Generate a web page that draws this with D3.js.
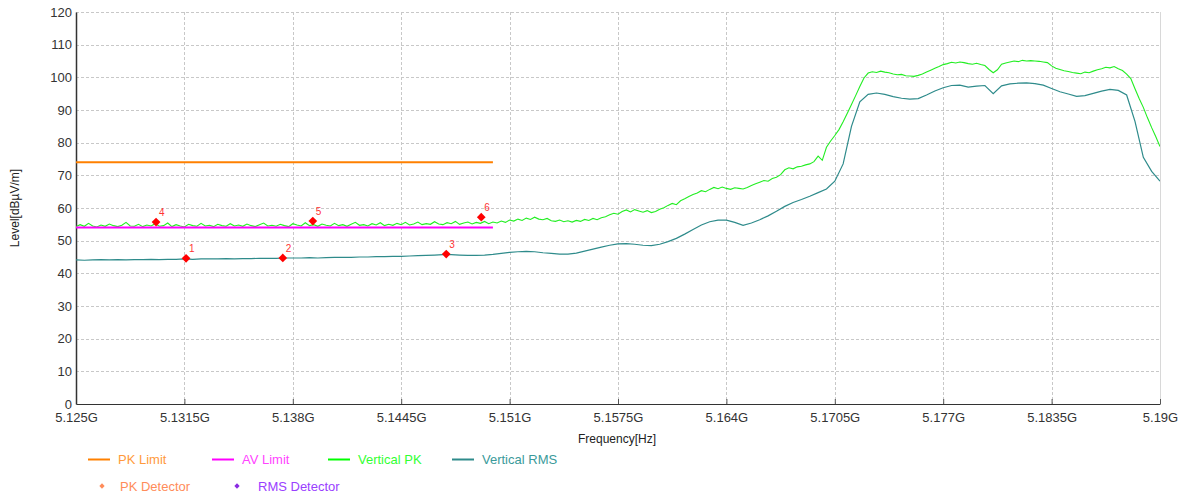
<!DOCTYPE html>
<html><head><meta charset="utf-8">
<script src="https://cdn.jsdelivr.net/npm/d3@7"></script>
<style>
html,body{margin:0;padding:0;background:#fff;}
svg{display:block;font-family:"Liberation Sans",Arial,sans-serif;}
</style></head>
<body><svg id="chart" width="1184" height="498"></svg>
<script>
// ---------- data ----------
const freqStart = 5.125, freqEnd = 5.19;
const xTickValues = [5.125,5.1315,5.138,5.1445,5.151,5.1575,5.164,5.1705,5.177,5.1835,5.19];
const xTickLabels = ["5.125G","5.1315G","5.138G","5.1445G","5.151G","5.1575G","5.164G","5.1705G","5.177G","5.1835G","5.19G"];
const yTickValues = [0,10,20,30,40,50,60,70,80,90,100,110,120];

const pkLimit = {f0:5.125, f1:5.15, level:74};
const avLimit = {f0:5.125, f1:5.15, level:54};

// Vertical PK trace, sweep grid 5.125 GHz .. 5.19 GHz, step 0.25 MHz
const pkStep = 0.00025;
const pkValues = [
54.3,54.9,54.4,55.3,54.5,54.2,54.8,54.4,55.1,54.6,
54.3,54.7,55.6,54.5,54.4,55.0,54.3,54.8,54.5,55.2,
54.4,54.6,55.4,54.3,54.9,54.5,54.2,55.0,54.6,54.4,
55.3,54.5,54.7,54.3,55.0,54.6,54.4,55.2,54.5,54.8,
54.4,55.1,54.6,54.3,54.9,55.4,54.5,54.7,54.4,55.0,
54.6,54.3,55.2,54.8,54.5,55.5,54.6,54.9,54.4,55.1,
54.7,54.5,55.3,54.6,54.9,54.4,55.0,55.6,54.7,54.9,
54.5,55.2,54.8,55.5,54.6,55.0,54.7,55.3,54.9,55.6,
54.8,55.1,55.7,54.9,55.2,55.0,55.8,55.1,54.9,55.5,
55.2,55.9,55.0,55.4,55.7,55.1,55.6,55.3,55.9,55.2,
55.7,55.4,56.0,55.6,56.3,56.0,56.6,56.2,56.9,56.5,
57.2,56.6,56.4,56.8,56.1,55.9,56.3,55.8,56.1,55.7,
56.2,55.9,56.5,56.2,56.8,56.4,57.0,57.3,57.9,58.4,
58.1,58.9,59.4,58.8,59.5,59.1,58.7,59.2,58.6,58.9,
59.6,60.1,60.8,61.4,61.0,62.2,62.8,63.5,64.1,64.6,
65.3,65.0,65.7,66.3,65.9,66.4,66.0,65.7,66.2,66.0,
65.8,66.3,66.9,67.4,67.9,68.4,68.2,69.0,69.4,70.2,
71.7,72.3,72.0,72.6,72.8,73.2,73.5,74.2,75.9,74.6,
78.6,80.5,82.2,84.0,86.4,89.0,91.7,94.4,97.2,99.8,
101.3,101.7,101.5,101.9,101.6,101.4,101.0,100.8,100.9,100.5,
100.4,100.3,100.6,101.0,101.6,102.2,102.8,103.3,103.9,104.2,
104.6,104.4,104.7,104.5,104.2,104.0,104.3,103.9,103.6,102.4,
101.4,102.3,104.0,104.4,104.7,105.0,104.8,105.2,105.0,105.1,
105.0,104.9,104.7,104.5,103.5,102.8,102.4,102.0,101.8,101.5,
101.3,101.1,101.6,101.4,101.9,102.3,102.6,103.1,102.9,103.3,
102.6,102.1,101.0,99.6,96.5,93.5,90.8,87.6,84.6,81.8,
78.8
];

// Vertical RMS trace, sweep grid 5.125 GHz .. 5.19 GHz, step 0.5 MHz
const rmsStep = 0.0005;
const rmsValues = [
44.1,44.0,44.1,44.2,44.1,44.2,44.1,44.2,44.2,44.3,
44.2,44.3,44.3,44.4,44.3,44.4,44.4,44.4,44.5,44.4,
44.5,44.5,44.6,44.6,44.6,44.7,44.7,44.7,44.8,44.7,
44.8,44.9,44.9,44.9,45.0,45.0,45.1,45.1,45.2,45.2,
45.3,45.4,45.5,45.6,45.7,45.7,45.6,45.5,45.5,45.6,
45.8,46.1,46.4,46.6,46.7,46.6,46.3,46.1,45.9,45.9,
46.2,46.8,47.4,48.0,48.6,49.0,49.1,48.9,48.6,48.5,
48.9,49.7,50.7,52.0,53.4,54.8,55.8,56.3,56.3,55.6,
54.7,55.4,56.4,57.6,59.0,60.5,61.7,62.6,63.6,64.7,
65.8,68.2,73.5,85.0,92.5,94.8,95.2,94.8,94.1,93.6,
93.3,93.5,94.6,95.8,96.8,97.5,97.6,97.0,97.3,97.5,
95.0,97.4,98.0,98.2,98.3,98.1,97.6,96.6,95.6,94.9,
94.2,94.4,95.1,95.8,96.3,96.0,94.6,86.5,75.5,71.2,
68.2
];

// Final measurement markers
const markerLabels = ["1","2","3","4","5","6"];
const markerFreqs  = [5.1316,5.1374,5.1472,5.1298,5.1392,5.1493];
const markerLevels = [44.6,44.7,45.9,55.7,56.0,57.2];

// Legend
const legendLineNames  = ["PK Limit","AV Limit","Vertical PK","Vertical RMS"];
const legendLineColors = ["#ff8000","#ff00ff","#00ff00","#2e8b8b"];
const legendTextColors = ["#ff9a3c","#ff44ff","#33ff33","#3a9a9a"];
const legendDotNames   = ["PK Detector","RMS Detector"];
const legendDotColors  = ["#ff8c5a","#8a2be2"];
const legendDotText    = ["#ff8c5a","#9a40ff"];

// ---------- drawing ----------
const svg = d3.select("#chart");
const L = 76, R = 1160, T = 12, B = 404;
const x = d3.scaleLinear().domain([freqStart, freqEnd]).range([L, R]);
const y = d3.scaleLinear().domain([0, 120]).range([B, T]);

svg.append("defs").append("clipPath").attr("id","clip")
  .append("rect").attr("x",L).attr("y",T).attr("width",R-L).attr("height",B-T);

// grid
const grid = svg.append("g");
grid.selectAll(".hg").data(yTickValues.filter(d=>d>0)).join("line")
  .attr("x1",L).attr("x2",R).attr("y1",d=>Math.round(y(d))+0.5).attr("y2",d=>Math.round(y(d))+0.5)
  .attr("stroke","#c8c8c8").attr("stroke-dasharray","3,2");
grid.selectAll(".vg").data(xTickValues.slice(1)).join("line")
  .attr("x1",d=>Math.round(x(d))+0.5).attr("x2",d=>Math.round(x(d))+0.5).attr("y1",T).attr("y2",B)
  .attr("stroke","#c8c8c8").attr("stroke-dasharray","3,2");
svg.append("line").attr("x1",R+0.5).attr("x2",R+0.5).attr("y1",T).attr("y2",B).attr("stroke","#d8d8d8");

// axes
const xAxis = d3.axisBottom(x).tickValues(xTickValues).tickFormat((d,i)=>xTickLabels[i]).tickSizeInner(-5).tickSizeOuter(0).tickPadding(9);
const gx = svg.append("g").attr("transform",`translate(0,${B})`).call(xAxis);
gx.select(".domain").attr("stroke","#333");
gx.selectAll(".tick line").attr("stroke","#555");
gx.selectAll("text").attr("font-size",13).attr("fill","#333").attr("font-family","Liberation Sans, Arial, sans-serif");

const yAxis = d3.axisLeft(y).tickValues(yTickValues).tickSize(0).tickPadding(4);
const gy = svg.append("g").attr("transform",`translate(${L},0)`).call(yAxis);
gy.select(".domain").attr("stroke","#333").attr("stroke-width",1.5);
gy.selectAll("text").attr("font-size",13).attr("fill","#333").attr("font-family","Liberation Sans, Arial, sans-serif");

svg.append("text").attr("transform",`translate(19,${(T+B)/2}) rotate(-90)`)
  .attr("text-anchor","middle").attr("font-size",12).attr("fill","#222").text("Level[dBµV/m]");
svg.append("text").attr("x",617).attr("y",443).attr("text-anchor","middle")
  .attr("font-size",12).attr("fill","#222").text("Frequency[Hz]");

// traces
const plot = svg.append("g").attr("clip-path","url(#clip)");
const line = d3.line().x(d=>x(d[0])).y(d=>y(d[1]));
const pkData = pkValues.map((v,i)=>[freqStart + i*pkStep, v]);
const rmsData = rmsValues.map((v,i)=>[freqStart + i*rmsStep, v]);

plot.append("path").datum([[pkLimit.f0,pkLimit.level],[pkLimit.f1,pkLimit.level]])
  .attr("d",line).attr("fill","none").attr("stroke","#ff8000").attr("stroke-width",2);
plot.append("path").datum(rmsData).attr("d",line).attr("fill","none")
  .attr("stroke","#2e8b8b").attr("stroke-width",1.2);
plot.append("path").datum(pkData).attr("d",line).attr("fill","none")
  .attr("stroke","#22ee22").attr("stroke-width",1.1);
plot.append("path").datum([[avLimit.f0,avLimit.level],[avLimit.f1,avLimit.level]])
  .attr("d",line).attr("fill","none").attr("stroke","#ff00ff").attr("stroke-width",2);

// markers (square rotated 45° = diamond)
const mk = svg.append("g");
markerFreqs.forEach((f,i)=>{
  mk.append("path").attr("d",d3.symbol(d3.symbolSquare, 38)())
    .attr("transform",`translate(${x(f)},${y(markerLevels[i])}) rotate(45)`).attr("fill","#ff0000");
  mk.append("text").attr("x",x(f)+3).attr("y",y(markerLevels[i])-6)
    .attr("font-size",10).attr("fill","#ff3333").text(markerLabels[i]);
});

// legend
const lg = svg.append("g").attr("font-size",13);
const lineX = [88,212,328,452];
legendLineNames.forEach((n,i)=>{
  lg.append("line").attr("x1",lineX[i]).attr("x2",lineX[i]+22).attr("y1",459.5).attr("y2",459.5)
    .attr("stroke",legendLineColors[i]).attr("stroke-width",2);
  lg.append("text").attr("x",lineX[i]+30).attr("y",464).attr("fill",legendTextColors[i]).text(n);
});
const dotX = [102,237];
legendDotNames.forEach((n,i)=>{
  lg.append("path").attr("d",d3.symbol(d3.symbolSquare,14)())
    .attr("transform",`translate(${dotX[i]},${486}) rotate(45)`).attr("fill",legendDotColors[i]);
  lg.append("text").attr("x",dotX[i]+18+(i?3:0)).attr("y",491).attr("fill",legendDotText[i]).text(n);
});
</script></body></html>
